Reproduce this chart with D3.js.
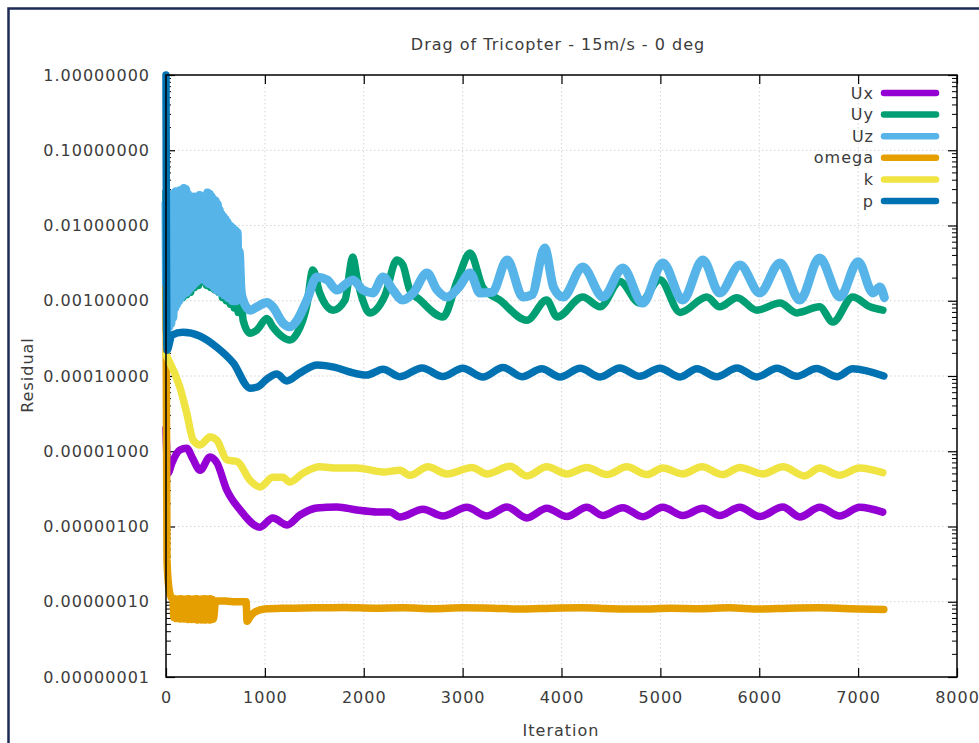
<!DOCTYPE html>
<html><head><meta charset="utf-8">
<script src="https://cdn.jsdelivr.net/npm/d3@7/dist/d3.min.js"></script>
<style>
html,body{margin:0;padding:0;background:#fff;}
svg{display:block;}
</style></head><body>
<svg id="chart" width="979" height="743"></svg>
<script>
// ---------- data ----------
const chartTitle = "Drag of Tricopter - 15m/s - 0 deg";
const xLabel = "Iteration";
const yLabel = "Residual";
const xTicks = [0,1000,2000,3000,4000,5000,6000,7000,8000];
const yTicks = [1e-8,1e-7,1e-6,1e-5,1e-4,1e-3,1e-2,1e-1,1];
const seriesNames = ["Ux","Uy","Uz","omega","k","p"];

const Ux = [[0,2.0e-5],[20,5.1e-6],[60,7e-6],[140,1.04e-5],[210,1.1e-5],[270,8e-6],[345,5.6e-6],[445,8.4e-6],[515,7.0e-6],[615,3.05e-6],[750,1.66e-6],[950,9.8e-7],[1080,1.3e-6],[1225,1.05e-6],[1355,1.42e-6],[1525,1.76e-6],[1730,1.82e-6],[1930,1.66e-6],[2135,1.56e-6],[2265,1.56e-6],[2365,1.34e-6],[2600,1.7e-6],[2800,1.38e-6],[3043,1.8e-6],[3245,1.38e-6],[3448,1.82e-6],[3650,1.3e-6],[3852,1.75e-6],[4054,1.36e-6],[4256,1.8e-6],[4418,1.4e-6],[4620,1.78e-6],[4822,1.35e-6],[5025,1.8e-6],[5227,1.4e-6],[5429,1.75e-6],[5601,1.4e-6],[5803,1.8e-6],[6005,1.36e-6],[6238,1.82e-6],[6410,1.34e-6],[6612,1.8e-6],[6814,1.38e-6],[7016,1.8e-6],[7249,1.55e-6]];

const Uy = [[0,0.028],[10,0.0006],[30,0.022],[50,0.0007],[70,0.024],[90,0.0009],[110,0.025],[130,0.001],[150,0.024],[170,0.0011],[190,0.026],[210,0.0012],[230,0.022],[250,0.0013],[270,0.02],[290,0.0015],[310,0.021],[330,0.0016],[350,0.02],[370,0.0018],[390,0.018],[410,0.0016],[430,0.022],[450,0.0015],[470,0.019],[490,0.0014],[510,0.017],[530,0.0013],[550,0.013],[570,0.0011],[590,0.011],[610,0.001],[630,0.009],[650,0.0009],[670,0.008],[690,0.0008],[710,0.006],[730,0.0007],[750,0.0022],[780,0.00055],[850,0.00037],[920,0.00041],[1020,0.00058],[1080,0.00045],[1180,0.00033],[1250,0.0003],[1325,0.00037],[1425,0.00088],[1485,0.00256],[1555,0.00127],[1690,0.00075],[1810,0.00102],[1890,0.0038],[1930,0.00207],[1990,0.00102],[2060,0.00069],[2215,0.00118],[2335,0.00348],[2395,0.003],[2465,0.0014],[2570,0.00102],[2800,0.00061],[2950,0.0019],[3075,0.0043],[3205,0.0015],[3375,0.00102],[3650,0.00055],[3850,0.00102],[3955,0.00061],[4215,0.00112],[4390,0.00083],[4590,0.0018],[4790,0.00093],[4995,0.0019],[5200,0.0007],[5470,0.00112],[5600,0.00083],[5775,0.0011],[5975,0.00075],[6210,0.00093],[6380,0.00069],[6610,0.00083],[6745,0.00052],[6945,0.00112],[7120,0.00083],[7250,0.00075]];

const Uz = [[0,0.020],[10,0.0004],[20,0.021],[30,0.00045],[40,0.024],[50,0.0005],[60,0.026],[70,0.0006],[80,0.022],[90,0.0008],[100,0.028],[110,0.0009],[120,0.025],[130,0.0010],[140,0.029],[150,0.0011],[160,0.027],[170,0.0012],[180,0.031],[190,0.0013],[200,0.030],[210,0.0013],[220,0.026],[230,0.0014],[240,0.022],[250,0.0015],[260,0.020],[270,0.0016],[280,0.024],[290,0.0017],[300,0.023],[310,0.0018],[320,0.019],[330,0.0019],[340,0.025],[350,0.0020],[360,0.022],[370,0.0021],[380,0.018],[390,0.0019],[400,0.024],[410,0.0018],[420,0.027],[430,0.0017],[440,0.026],[450,0.0017],[460,0.024],[470,0.0016],[480,0.022],[490,0.0015],[500,0.021],[510,0.0014],[520,0.019],[530,0.0014],[540,0.016],[550,0.0013],[560,0.014],[570,0.0013],[580,0.013],[590,0.0012],[600,0.012],[610,0.0012],[620,0.011],[630,0.0011],[640,0.010],[650,0.0011],[660,0.0095],[670,0.0010],[680,0.009],[690,0.0010],[700,0.0085],[710,0.0010],[720,0.008],[730,0.0011],[740,0.0045],[760,0.0013],[780,0.00102],[850,0.00075],[920,0.00083],[1020,0.00095],[1080,0.00083],[1180,0.00051],[1250,0.00045],[1325,0.00055],[1425,0.00102],[1525,0.00207],[1630,0.00189],[1730,0.00139],[1830,0.00172],[1890,0.00189],[1990,0.00139],[2090,0.00127],[2195,0.00207],[2295,0.00139],[2395,0.00102],[2500,0.00127],[2640,0.00234],[2740,0.0014],[2840,0.00112],[2960,0.0015],[3075,0.00234],[3175,0.00127],[3300,0.0013],[3450,0.00348],[3610,0.00112],[3700,0.0012],[3830,0.00502],[3920,0.0015],[4015,0.00112],[4215,0.0028],[4420,0.00112],[4620,0.00272],[4820,0.00093],[5025,0.00318],[5225,0.00102],[5430,0.00348],[5600,0.00127],[5805,0.00299],[6005,0.00127],[6210,0.00318],[6410,0.00102],[6610,0.0037],[6815,0.00112],[7000,0.0033],[7150,0.00127],[7220,0.00152],[7265,0.0011]];

const omega = [[0,1.5e-3],[10,3.6e-7],[30,1.5e-7],[60,1.1e-7],[70,1.08e-7],[80,6.2e-8],[90,1.1e-7],[100,6.0e-8],[110,1.07e-7],[120,6.1e-8],[130,1.09e-7],[140,5.9e-8],[150,1.1e-7],[160,6.0e-8],[170,1.08e-7],[180,5.9e-8],[190,1.07e-7],[200,6.0e-8],[210,1.09e-7],[220,5.8e-8],[230,1.1e-7],[240,5.9e-8],[250,1.08e-7],[260,5.8e-8],[270,1.07e-7],[280,5.9e-8],[290,1.09e-7],[300,5.8e-8],[310,1.1e-7],[320,5.7e-8],[330,1.08e-7],[340,5.8e-8],[350,1.07e-7],[360,5.7e-8],[370,1.09e-7],[380,5.8e-8],[390,1.1e-7],[400,5.7e-8],[410,1.08e-7],[420,5.8e-8],[430,1.09e-7],[440,5.7e-8],[450,1.1e-7],[460,5.8e-8],[470,1.07e-7],[480,5.9e-8],[500,1.0e-7],[520,1.02e-7],[600,1.02e-7],[700,1.0e-7],[810,1.0e-7],[820,5.5e-8],[850,6.3e-8],[900,7.3e-8],[1000,8.0e-8],[1200,8.2e-8],[1500,8.3e-8],[1800,8.4e-8],[2100,8.2e-8],[2400,8.3e-8],[2700,8.1e-8],[3000,8.3e-8],[3300,8.2e-8],[3600,8.0e-8],[3900,8.2e-8],[4200,8.3e-8],[4500,8.1e-8],[4800,8.0e-8],[5100,8.2e-8],[5400,8.1e-8],[5700,8.3e-8],[6000,8.0e-8],[6300,8.2e-8],[6600,8.3e-8],[6900,8.1e-8],[7260,7.9e-8]];

const k = [[0,1.9e-4],[20,1.7e-4],[140,7.1e-5],[210,3.2e-5],[275,1.4e-5],[345,1.21e-5],[445,1.55e-5],[515,1.4e-5],[615,7.7e-6],[720,7.3e-6],[850,4.1e-6],[950,3.35e-6],[1080,4.5e-6],[1180,4.5e-6],[1250,3.9e-6],[1385,5.1e-6],[1555,6.2e-6],[1730,6.0e-6],[1930,6.0e-6],[2195,5.3e-6],[2365,5.6e-6],[2465,4.8e-6],[2650,6.2e-6],[2840,5.0e-6],[3095,6.1e-6],[3245,5.0e-6],[3480,6.3e-6],[3650,4.7e-6],[3850,6.2e-6],[4055,5.0e-6],[4255,6.1e-6],[4460,4.9e-6],[4660,6.2e-6],[4865,4.9e-6],[5025,6.0e-6],[5225,5.0e-6],[5420,6.2e-6],[5630,4.9e-6],[5805,6.1e-6],[6035,5.0e-6],[6240,6.2e-6],[6460,4.7e-6],[6610,6.0e-6],[6815,4.8e-6],[7015,6.0e-6],[7250,5.2e-6]];

const p = [[0,1.0],[10,0.00022],[60,0.00035],[170,0.00038],[340,0.00034],[515,0.00024],[680,0.000149],[850,0.000069],[930,0.000072],[1020,0.000091],[1120,0.000106],[1220,0.000086],[1355,0.00011],[1530,0.00014],[1710,0.00013],[1860,0.000113],[2030,0.000103],[2195,0.000123],[2365,0.000098],[2590,0.000128],[2800,0.0000985],[3000,0.000127],[3205,0.000097],[3410,0.00013],[3600,0.000098],[3800,0.000125],[3985,0.000097],[4190,0.000127],[4390,0.000097],[4590,0.000128],[4790,0.000099],[4995,0.000127],[5200,0.000097],[5370,0.000125],[5570,0.000098],[5775,0.000128],[5975,0.000097],[6180,0.000127],[6380,0.000099],[6580,0.000126],[6785,0.000098],[6945,0.000125],[7260,0.0001]];

// ---------- style ----------
const seriesData = [Ux, Uy, Uz, omega, k, p];
const colors = ["#9400d3","#009e73","#56b4e9","#e69f00","#f0e442","#0072b2"];
const widths = [7.5,7.5,9,7.5,7.5,7.5];
const FONT = "DejaVu Sans, Verdana, sans-serif";
const TXT = "#3c3c3c";

const svg = d3.select("#chart");
const L = 166, R = 957, T = 75, B = 677;

// page frame
svg.append("rect").attr("x",0).attr("y",0).attr("width",979).attr("height",743).attr("fill","#fff");
svg.append("rect").attr("x",8.5).attr("y",8.5).attr("width",1000).attr("height",800)
  .attr("fill","none").attr("stroke","#1c2a58").attr("stroke-width",2.5);

const x = d3.scaleLinear().domain([0,8000]).range([L,R]);
const y = d3.scaleLog().domain([1e-8,1]).range([B,T]);

// grid
const grid = svg.append("g").attr("stroke","#d4d4d4").attr("stroke-width",1).attr("stroke-dasharray","1.5,2.5");
grid.selectAll("line.gx").data(xTicks.slice(1,-1)).join("line")
  .attr("x1",d=>x(d)).attr("x2",d=>x(d)).attr("y1",T).attr("y2",B);
grid.selectAll("line.gy").data(yTicks.slice(1,-1)).join("line")
  .attr("y1",d=>y(d)).attr("y2",d=>y(d)).attr("x1",L).attr("x2",R);

function styleAxis(g){
  g.select(".domain").remove();
  g.attr("font-family",null).attr("font-size",null);
  g.selectAll("line").attr("stroke","#000").attr("stroke-width",1.2);
  g.selectAll("text").attr("fill",TXT).style("font-family",FONT).style("font-size","16px").style("letter-spacing","1px");
}
svg.append("g").attr("transform",`translate(0,${B})`)
  .call(d3.axisBottom(x).tickValues(xTicks).tickFormat(d3.format("d")).tickSizeInner(-9).tickSizeOuter(0).tickPadding(15))
  .call(styleAxis);
svg.append("g").attr("transform",`translate(0,${T})`)
  .call(d3.axisTop(x).tickValues(xTicks).tickFormat("").tickSizeInner(-9).tickSizeOuter(0))
  .call(styleAxis);
svg.append("g").attr("transform",`translate(${L},0)`)
  .call(d3.axisLeft(y).tickValues(yTicks).tickFormat(d3.format(".8f")).tickSizeInner(-9).tickSizeOuter(0).tickPadding(16))
  .call(styleAxis);
svg.append("g").attr("transform",`translate(${R},0)`)
  .call(d3.axisRight(y).tickValues(yTicks).tickFormat("").tickSizeInner(-9).tickSizeOuter(0))
  .call(styleAxis);

// minor log ticks
const minor = [];
yTicks.slice(0,-1).forEach(d=>{ for(let m=2;m<=9;m++) minor.push(d*m); });
const mg = svg.append("g").attr("stroke","#000").attr("stroke-width",1);
mg.selectAll("line.ml").data(minor).join("line").attr("x1",L).attr("x2",L+5).attr("y1",d=>y(d)).attr("y2",d=>y(d));
mg.selectAll("line.mr").data(minor).join("line").attr("x1",R).attr("x2",R-5).attr("y1",d=>y(d)).attr("y2",d=>y(d));

// series
const line = d3.line().x(d=>x(d[0])).y(d=>y(d[1])).curve(d3.curveMonotoneX);
const lg = svg.append("g").attr("fill","none").attr("stroke-linejoin","round").attr("stroke-linecap","round");
seriesData.forEach((s,i)=>{
  lg.append("path").datum(s).attr("d",line).attr("stroke",colors[i]).attr("stroke-width",widths[i]);
});

// border
svg.append("rect").attr("x",L).attr("y",T).attr("width",R-L).attr("height",B-T)
  .attr("fill","none").attr("stroke","#000").attr("stroke-width",1.5);

// legend
const leg = svg.append("g");
seriesNames.forEach((n,i)=>{
  const yy = 93 + i*21.6;
  leg.append("text").attr("x",874).attr("y",yy).attr("dy","0.35em").attr("text-anchor","end")
    .attr("fill",TXT).style("font-family",FONT).style("font-size","16px").style("letter-spacing","1px").text(n);
  leg.append("line").attr("x1",884).attr("x2",936).attr("y1",yy).attr("y2",yy)
    .attr("stroke",colors[i]).attr("stroke-width",6.5).attr("stroke-linecap","round");
});

// titles
svg.append("text").attr("x",558).attr("y",50).attr("text-anchor","middle").attr("fill",TXT)
  .style("font-family",FONT).style("font-size","16px").style("letter-spacing","1px").text(chartTitle);
svg.append("text").attr("transform","translate(33,375) rotate(-90)").attr("text-anchor","middle").attr("fill",TXT)
  .style("font-family",FONT).style("font-size","16px").style("letter-spacing","1px").text(yLabel);
svg.append("text").attr("x",561).attr("y",736).attr("text-anchor","middle").attr("fill",TXT)
  .style("font-family",FONT).style("font-size","16px").style("letter-spacing","1px").text(xLabel);
</script>
</body></html>
